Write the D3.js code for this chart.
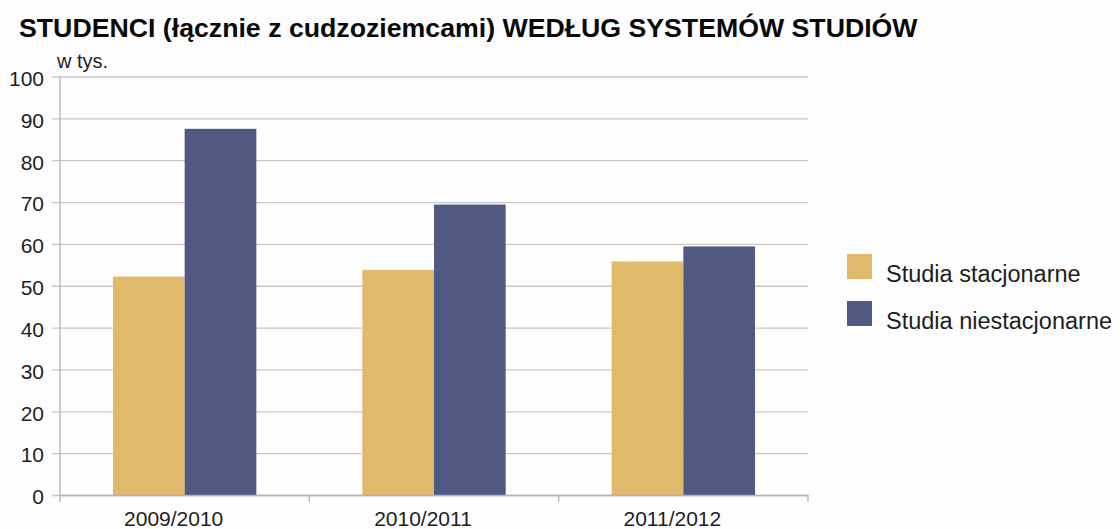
<!DOCTYPE html>
<html>
<head>
<meta charset="utf-8">
<script src="https://cdn.jsdelivr.net/npm/d3@7"></script>
<style>
  html, body { margin: 0; padding: 0; background: #fdfdfd; }
  svg { display: block; font-family: "Liberation Sans", Arial, sans-serif; }
</style>
</head>
<body>
<svg id="chart" width="1120" height="529"></svg>
<script>
(function () {
    'use strict';

    const WIDTH = 1120;
    const HEIGHT = 529;

    // data (thousands of students)
    const years = ["2009/2010", "2010/2011", "2011/2012"];
    const seriesNames = ["Studia stacjonarne", "Studia niestacjonarne"];
    const stacjonarne = [52.2, 53.8, 55.8];
    const niestacjonarne = [87.5, 69.4, 59.4];
    const yTicks = [0, 10, 20, 30, 40, 50, 60, 70, 80, 90, 100];
    const colors = ["#e0b96b", "#4f5982"];

    const title = "STUDENCI (łącznie z cudzoziemcami) WEDŁUG SYSTEMÓW STUDIÓW";
    const unit = "w tys.";

    const left = 60, right = 808, top = 76.5, bottom = 495;

    let svg = d3.select("#chart")
        .attr("width", WIDTH)
        .attr("height", HEIGHT);

    svg.append("rect")
        .attr("width", WIDTH)
        .attr("height", HEIGHT)
        .attr("fill", "#fdfdfd");

    let y = d3.scaleLinear().domain([0, 100]).range([bottom, top]);
    let x0 = d3.scaleBand().domain(years).range([left, right]).padding(0);
    let x1 = d3.scaleBand().domain(seriesNames).range([53, x0.bandwidth() - 53]).padding(0);

    // grid + y labels
    let yAxis = svg.append("g")
        .attr("transform", `translate(${left},0)`)
        .call(d3.axisLeft(y).tickValues(yTicks).tickSize(-(right - left)).tickPadding(16));
    yAxis.select(".domain").remove();
    yAxis.selectAll(".tick line")
        .attr("x1", -8)
        .attr("stroke", "#c8c8c8")
        .attr("stroke-width", 1.3);
    yAxis.selectAll(".tick text")
        .attr("font-size", 21)
        .attr("fill", "#1e1e1e")
        .attr("dy", "0.42em")
        .attr("font-family", "Liberation Sans, Arial, sans-serif");

    // bars
    let rows = years.map((yr, i) => ({year: yr, values: [stacjonarne[i], niestacjonarne[i]]}));

    svg.append("g")
        .selectAll("g")
        .data(rows)
        .join("g")
        .attr("transform", d => `translate(${x0(d.year)},0)`)
        .selectAll("rect")
        .data(d => d.values.map((v, k) => ({name: seriesNames[k], value: v, k: k})))
        .join("rect")
        .attr("x", d => x1(d.name))
        .attr("width", x1.bandwidth())
        .attr("y", d => y(d.value))
        .attr("height", d => y(0) - y(d.value))
        .attr("fill", d => colors[d.k]);

    // y axis line
    svg.append("line")
        .attr("x1", left).attr("x2", left)
        .attr("y1", top).attr("y2", bottom)
        .attr("stroke", "#b4b4b4")
        .attr("stroke-width", 1.3);

    // x axis
    let xAxis = svg.append("g")
        .attr("transform", `translate(0,${bottom})`)
        .call(d3.axisBottom(x0).tickSize(0).tickPadding(31));
    xAxis.select(".domain")
        .attr("stroke", "#b4b4b4")
        .attr("stroke-width", 1.3);
    xAxis.selectAll(".tick text")
        .attr("font-size", 21)
        .attr("fill", "#1e1e1e")
        .attr("dy", "0")
        .attr("dx", -11)
        .attr("font-family", "Liberation Sans, Arial, sans-serif");

    let boundaries = years.map(d => x0(d)).concat([x0(years[years.length - 1]) + x0.bandwidth()]);
    svg.append("g")
        .selectAll("line")
        .data(boundaries)
        .join("line")
        .attr("x1", d => d).attr("x2", d => d)
        .attr("y1", bottom).attr("y2", bottom + 7)
        .attr("stroke", "#b4b4b4")
        .attr("stroke-width", 1.3);

    // title and unit
    svg.append("text")
        .attr("x", 19)
        .attr("y", 37)
        .attr("font-size", 26.7)
        .attr("font-weight", "bold")
        .attr("fill", "#0a0a0a")
        .text(title);

    svg.append("text")
        .attr("x", 57)
        .attr("y", 68)
        .attr("font-size", 20)
        .attr("fill", "#1e1e1e")
        .text(unit);

    // legend
    let legend = svg.append("g")
        .attr("transform", "translate(847,254)")
        .selectAll("g")
        .data(seriesNames)
        .join("g")
        .attr("transform", (d, i) => `translate(0,${i * 47})`);

    legend.append("rect")
        .attr("width", 25)
        .attr("height", 25)
        .attr("fill", (d, i) => colors[i]);

    legend.append("text")
        .attr("x", 39)
        .attr("y", 27.5)
        .attr("font-size", 23.5)
        .attr("fill", "#1e1e1e")
        .text(d => d);
})();
</script>
</body>
</html>
